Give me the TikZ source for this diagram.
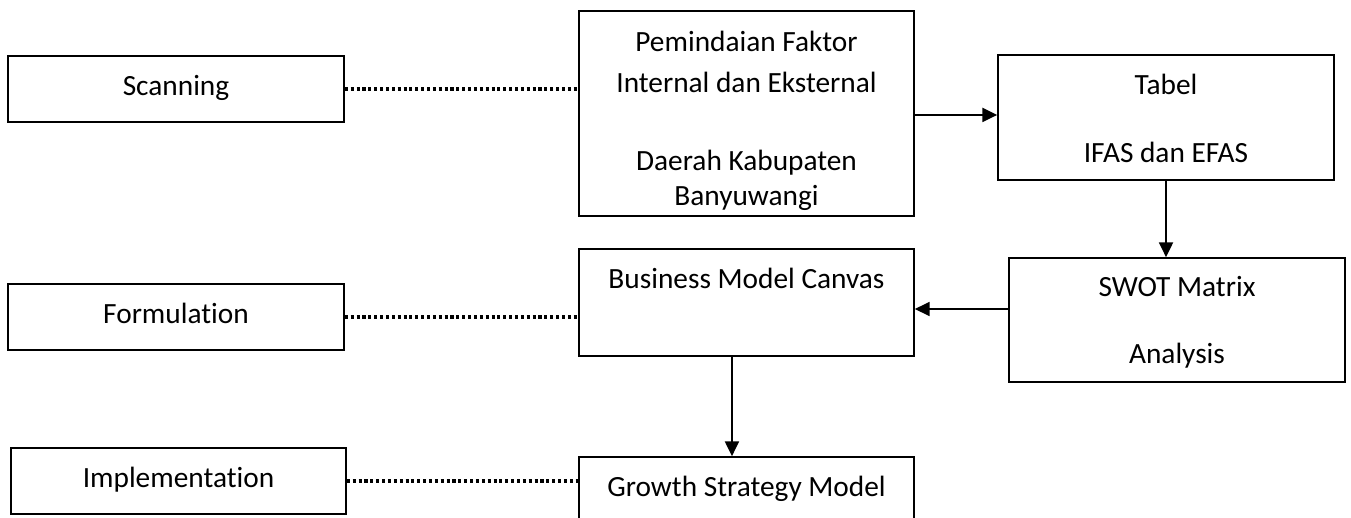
\documentclass[tikz,border=0pt]{standalone}
\usepackage{fontspec}
\setmainfont[Ligatures=NoCommon]{Carlito}
\usetikzlibrary{arrows.meta}
\begin{document}
\begin{tikzpicture}[x=0.75pt,y=-0.75pt,
  box/.style 2 args={draw, line width=1.3pt, inner sep=0pt,
    minimum width=#1*0.75pt, minimum height=#2*0.75pt},
  lbl/.style={anchor=base, inner sep=0pt, font=\fontsize{22pt}{26pt}\selectfont},
  dots/.style={line width=2.4pt, dash pattern=on 2.3pt off 2.1pt},
  arr/.style={line width=1.3pt, -{Triangle[length=11pt,width=10.5pt]}}
]
\useasboundingbox (0,0) rectangle (1351,517);
\clip (0,0) rectangle (1351,517);

% stage boxes on the left
\node[box={336}{66}] (scan) at (176,89) {};
\node[box={336}{66}] (form) at (176,317) {};
\node[box={335}{66}] (impl) at (178.5,481) {};

% process boxes
\node[box={335}{205}] (pem)  at (746.5,113.5) {};
\node[box={336}{125}] (tab)  at (1166,117.5) {};
\node[box={336}{124}] (swot) at (1177,320) {};
\node[box={335}{107}] (bmc)  at (746.5,302.5) {};
\node[box={335}{80}]  (gsm)  at (746.5,497) {};

% texts
\node[lbl] (tScan) at (176,95) {Scanning};
\node[lbl] (tForm) at (176,323) {Formulation};
\node[lbl] (tImpl) at (178.5,487) {Implementation};
\node[lbl] (tPemA) at (746.5,52) {Pemindaian Faktor};
\node[lbl] (tPemB) at (746.5,93) {Internal dan Eksternal};
\node[lbl] (tPemC) at (746.5,170) {Daerah Kabupaten};
\node[lbl] (tPemD) at (746.5,205) {Banyuwangi};
\node[lbl] (tTabA) at (1166,94) {Tabel};
\node[lbl] (tTabB) at (1166,162) {IFAS dan EFAS};
\node[lbl] (tSwotA) at (1177,296) {SWOT Matrix};
\node[lbl] (tSwotB) at (1177,363) {Analysis};
\node[lbl] (tBmc) at (746.5,288) {Business Model Canvas};
\node[lbl] (tGsm) at (746.5,496) {Growth Strategy Model};

% dotted links from stages to process
\draw[dots] (scan.east) -- (scan.east -| pem.west);
\draw[dots] (form.east) -- (form.east -| bmc.west);
\draw[dots] (impl.east) -- (impl.east -| gsm.west);

% process flow
\draw[arr] ([yshift=-1.1pt]pem.east) -- ([yshift=-1.1pt]pem.east -| tab.west);
\draw[arr] (tab.south) -- (tab.south |- swot.north);
\draw[arr] ([yshift=8.25pt]swot.west) -- ([yshift=8.25pt]swot.west -| bmc.east);
\draw[arr] ([xshift=-10.9pt]bmc.south) -- ([xshift=-10.9pt]bmc.south |- gsm.north);
\end{tikzpicture}
\end{document}
